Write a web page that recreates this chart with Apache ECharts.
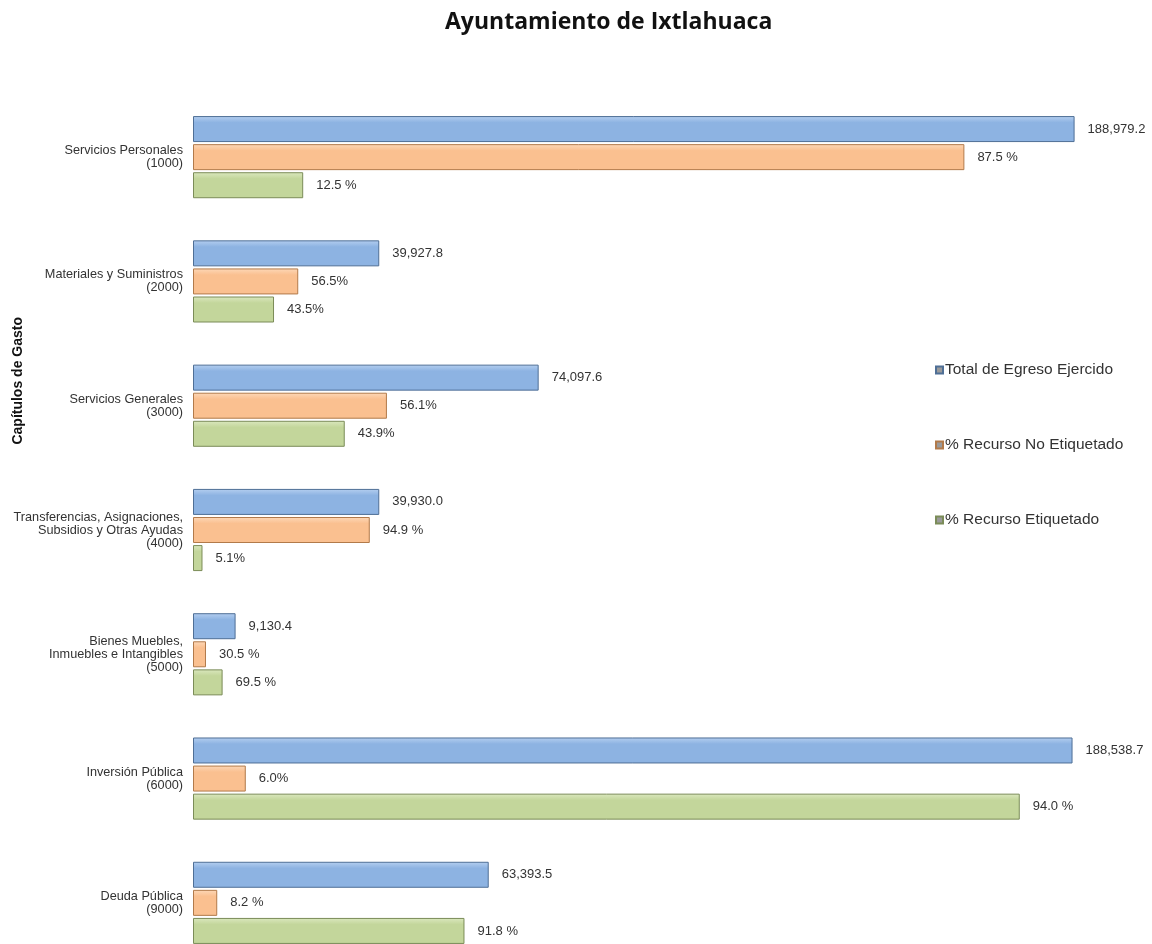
<!DOCTYPE html>
<html>
<head>
<meta charset="utf-8">
<script src="https://cdn.jsdelivr.net/npm/echarts@6/dist/echarts.min.js"></script>
<style>
  html, body { margin: 0; padding: 0; background: #fff; }
  #chart { width: 1152px; height: 944px; }
</style>
</head>
<body>
<div id="chart"></div>
<script>
// capitulos de gasto
var categories = [
  'Servicios Personales\n(1000)',
  'Materiales y Suministros\n(2000)',
  'Servicios Generales\n(3000)',
  'Transferencias, Asignaciones,\nSubsidios y Otras Ayudas\n(4000)',
  'Bienes Muebles,\nInmuebles e Intangibles\n(5000)',
  'Inversión Pública\n(6000)',
  'Deuda Pública\n(9000)'
];
var totalEgreso = [188979.2, 39927.8, 74097.6, 39930.0, 9130.4, 188538.7, 63393.5];
var pctNoEtiquetado = [87.5, 56.5, 56.1, 94.9, 30.5, 6.0, 8.2];
var pctEtiquetado = [12.5, 43.5, 43.9, 5.1, 69.5, 94.0, 91.8];
var lblNoEtiquetado = ['87.5 %', '56.5%', '56.1%', '94.9 %', '30.5 %', '6.0%', '8.2 %'];
var lblEtiquetado = ['12.5 %', '43.5%', '43.9%', '5.1%', '69.5 %', '94.0 %', '91.8 %'];
var seriesNames = ['Total de Egreso Ejercido', '% Recurso No Etiquetado', '% Recurso Etiquetado'];

var myChart = echarts.init(document.getElementById('chart'));

// la barra de porcentaje se dibuja como monto (total * %)
var montoNoEtiq = totalEgreso.map(function (t, i) { return t * pctNoEtiquetado[i] / 100; });
var montoEtiq = totalEgreso.map(function (t, i) { return t * pctEtiquetado[i] / 100; });

var grad = function (top, bottom) {
  return new echarts.graphic.LinearGradient(0, 0, 0, 1, [
    { offset: 0, color: top },
    { offset: 0.25, color: bottom },
    { offset: 1, color: bottom }
  ]);
};

var lbl = {
  show: true,
  position: 'right',
  distance: 13,
  color: '#333',
  fontSize: 13,
  fontFamily: 'Liberation Sans, Arial, sans-serif'
};

myChart.setOption({
  animation: false,
  title: {
    text: 'Ayuntamiento de Ixtlahuaca',
    left: 440,
    top: 6,
    textStyle: { fontSize: 23, fontWeight: 'bold', color: '#111', fontFamily: 'Open Sans, sans-serif' }
  },
  legend: {
    orient: 'vertical',
    left: 930,
    top: 357,
    itemGap: 59,
    icon: 'rect',
    itemWidth: 7,
    itemHeight: 7,
    itemStyle: { color: '#9a9a9a' },
    textStyle: { fontSize: 15.5, color: '#333', padding: [0, 0, 0, -3], fontFamily: 'Liberation Sans, Arial, sans-serif' },
    data: seriesNames
  },
  grid: { left: 193, top: 95, width: 933, height: 870, outerBoundsMode: 'none' },
  xAxis: {
    type: 'value',
    min: 0,
    max: 200000,
    show: false
  },
  yAxis: {
    type: 'category',
    inverse: true,
    data: categories,
    axisLine: { show: false },
    axisTick: { show: false },
    axisLabel: {
      margin: 10,
      color: '#333',
      fontSize: 12.7,
      lineHeight: 13,
      fontFamily: 'Liberation Sans, Arial, sans-serif'
    }
  },
  graphic: [{
    type: 'text',
    left: 11,
    top: 317,
    rotation: Math.PI / 2,
    style: {
      text: 'Capítulos de Gasto',
      fontSize: 14,
      fontWeight: 'bold',
      fill: '#111',
      fontFamily: 'Liberation Sans, Arial, sans-serif'
    }
  }],
  series: [{
    name: seriesNames[0],
    type: 'bar',
    barWidth: 26,
    barGap: '8%',
    data: totalEgreso,
    itemStyle: { color: grad('#b5cff0', '#8db3e2'), borderColor: '#4f6f96', borderWidth: 1 },
    label: Object.assign({}, lbl, {
      formatter: function (p) {
        return p.value.toLocaleString('en-US', { minimumFractionDigits: 1, maximumFractionDigits: 1 });
      }
    })
  }, {
    name: seriesNames[1],
    type: 'bar',
    barWidth: 26,
    barGap: '8%',
    data: montoNoEtiq,
    itemStyle: { color: grad('#fdd8b8', '#fac090'), borderColor: '#b27a4a', borderWidth: 1 },
    label: Object.assign({}, lbl, {
      formatter: function (p) { return lblNoEtiquetado[p.dataIndex]; }
    })
  }, {
    name: seriesNames[2],
    type: 'bar',
    barWidth: 26,
    barGap: '8%',
    data: montoEtiq,
    itemStyle: { color: grad('#dbe8bf', '#c3d69b'), borderColor: '#7b8c58', borderWidth: 1 },
    label: Object.assign({}, lbl, {
      formatter: function (p) { return lblEtiquetado[p.dataIndex]; }
    })
  }]
});
</script>
</body>
</html>
